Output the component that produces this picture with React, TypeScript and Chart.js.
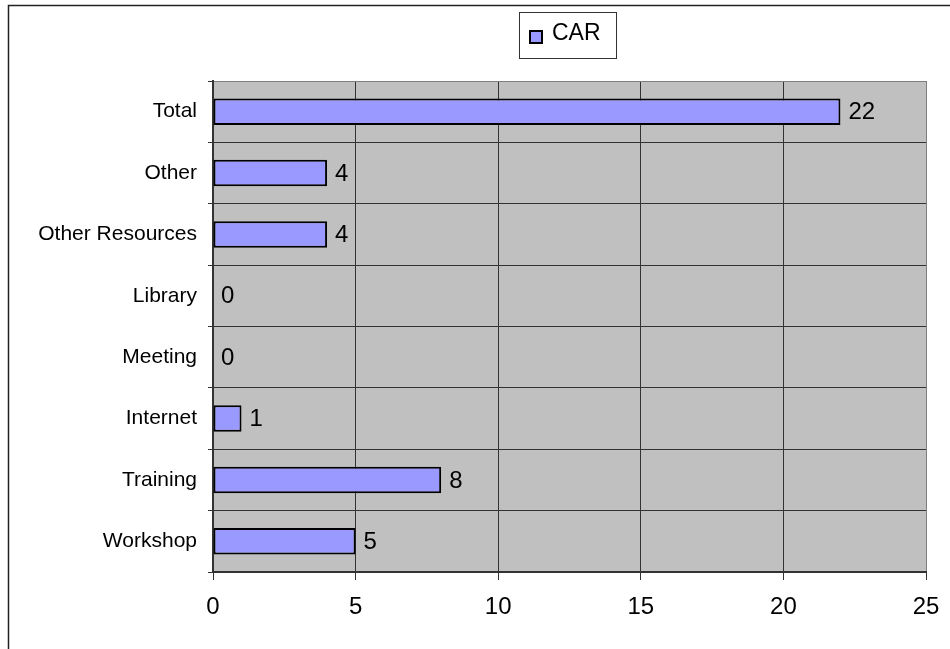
import React, { useEffect, useRef } from "react";
import { Chart, registerables } from "chart.js";

Chart.register(...registerables);

const categories = ["Total", "Other", "Other Resources", "Library", "Meeting", "Internet", "Training", "Workshop"];
const carValues = [22, 4, 4, 0, 0, 1, 8, 5];
const seriesName = "CAR";
const xMin = 0;
const xMax = 25;
const xStep = 5;

const FONT = "Arial, 'Liberation Sans', sans-serif";
const BAR_FILL = "#9999FF";
const PLOT_BG = "#C0C0C0";

const plotBgPlugin = {
  id: "plotBg",
  beforeDraw(chart: any) {
    const { ctx, chartArea } = chart;
    ctx.save();
    ctx.fillStyle = PLOT_BG;
    ctx.fillRect(chartArea.left, chartArea.top, chartArea.right - chartArea.left, chartArea.bottom - chartArea.top);
    ctx.restore();
  },
};

const extrasPlugin = {
  id: "extras",
  afterDraw(chart: any) {
    const { ctx } = chart;
    ctx.save();
    // outer frame
    ctx.strokeStyle = "#222";
    ctx.lineWidth = 1.5;
    ctx.beginPath();
    ctx.moveTo(8.5, chart.height + 2);
    ctx.lineTo(8.5, 5.5);
    ctx.lineTo(chart.width + 2, 5.5);
    ctx.stroke();

    // value labels
    const meta = chart.getDatasetMeta(0);
    const data = chart.data.datasets[0].data as number[];
    ctx.fillStyle = "#000";
    ctx.font = "24px " + FONT;
    ctx.textAlign = "left";
    ctx.textBaseline = "middle";
    meta.data.forEach((bar: any, i: number) => {
      ctx.fillText(String(data[i]), bar.x + 8, bar.y + 1);
    });

    // legend
    const lx = 519, ly = 12, lw = 97, lh = 46;
    ctx.fillStyle = "#fff";
    ctx.fillRect(lx, ly, lw, lh);
    ctx.strokeStyle = "#333";
    ctx.lineWidth = 1;
    ctx.strokeRect(lx + 0.5, ly + 0.5, lw, lh);
    ctx.fillStyle = BAR_FILL;
    ctx.fillRect(530, 31, 12, 12);
    ctx.strokeStyle = "#000";
    ctx.lineWidth = 2;
    ctx.strokeRect(530, 31, 12, 12);
    ctx.fillStyle = "#000";
    ctx.font = "23px " + FONT;
    ctx.textAlign = "left";
    ctx.textBaseline = "middle";
    ctx.fillText(seriesName, 552, 34);
    ctx.restore();
  },
};

export default function App() {
  const ref = useRef<HTMLCanvasElement>(null);
  useEffect(() => {
    if (!ref.current) return;
    const chart = new Chart(ref.current, {
      type: "bar",
      data: {
        labels: categories,
        datasets: [
          {
            label: seriesName,
            data: carValues,
            backgroundColor: BAR_FILL,
            borderColor: "#000",
            borderWidth: 2,
            borderSkipped: false,
            categoryPercentage: 1,
            barPercentage: 0.43,
          },
        ],
      },
      options: {
        indexAxis: "y",
        responsive: false,
        animation: false,
        layout: { padding: { top: 81, right: 24, left: 0, bottom: 0 } },
        plugins: { legend: { display: false }, tooltip: { enabled: false }, title: { display: false } },
        scales: {
          x: {
            min: xMin,
            max: xMax,
            ticks: { stepSize: xStep, color: "#000", font: { family: FONT, size: 24 }, padding: 13 },
            grid: {
              color: (c: any) => (c.tick && c.tick.value === xMax ? "#808080" : "#333"),
              lineWidth: 1,
              tickLength: 8,
              tickColor: "#333",
            },
            border: { display: true, color: "#333", width: 2 },
            afterFit: (s: any) => {
              s.height = 77;
              s.paddingRight = 0;
              s.paddingLeft = 0;
            },
          },
          y: {
            ticks: { color: "#000", font: { family: FONT, size: 21 }, padding: 11 },
            grid: {
              offset: true,
              color: (c: any) => (c.index === 0 ? "#808080" : "#333"),
              lineWidth: 1,
              tickLength: 5,
              tickColor: "#333",
            },
            border: { display: true, color: "#333", width: 2 },
            afterFit: (s: any) => {
              s.width = 213;
              s.paddingTop = 0;
              s.paddingBottom = 0;
            },
          },
        },
      },
      plugins: [plotBgPlugin, extrasPlugin],
    });
    return () => chart.destroy();
  }, []);
  return (
    <div style={{ position: "absolute", left: 0, top: 0, width: 950, height: 649, background: "#fff" }}>
      <canvas ref={ref} width={950} height={649} style={{ display: "block" }} />
    </div>
  );
}
